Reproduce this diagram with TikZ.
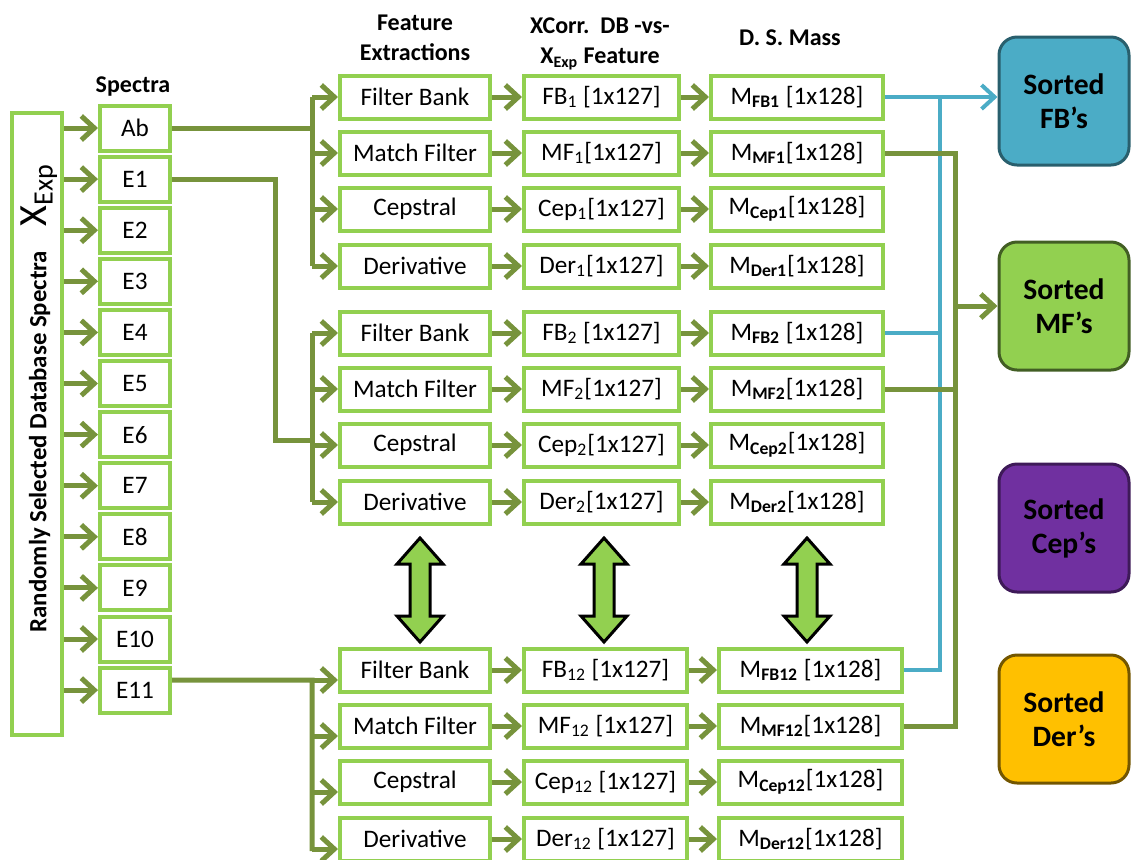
\documentclass[tikz,border=0pt]{standalone}
\usepackage{fontspec}
\setmainfont{Carlito}
\usepackage{tikz}
\usetikzlibrary{positioning,calc,arrows.meta}
\definecolor{boxgreen}{RGB}{146,208,80}
\definecolor{linegreen}{RGB}{119,147,60}
\definecolor{fbblue}{RGB}{75,172,198}
\definecolor{cepviolet}{RGB}{112,48,160}
\definecolor{derorange}{RGB}{255,192,0}

\begin{document}
\begin{tikzpicture}[x=0.5pt,y=-0.5pt]
            \tikzstyle{every node}=[font=\fontsize{12.6}{15}\selectfont]
            \tikzstyle{gbox}=[draw=boxgreen, line width=2pt, fill=white, inner sep=0pt, minimum height=21.5pt]
            \tikzstyle{spec}=[gbox, minimum width=35pt, minimum height=22.5pt]
            \tikzstyle{feat}=[gbox, minimum width=75pt]
            \tikzstyle{xcorr}=[gbox, minimum width=77.5pt]
            \tikzstyle{mass}=[gbox, minimum width=86pt]
            \tikzstyle{head}=[font=\fontsize{12}{15}\selectfont\bfseries, align=center]
            \tikzstyle{sorted}=[rounded corners=9pt, line width=1.5pt, minimum width=65pt, minimum height=64pt, align=center, font=\fontsize{14.8}{17}\selectfont\bfseries]
            \tikzstyle{line}=[draw=linegreen, line width=2.5pt]
            \tikzstyle{arr}=[line, -{Straight Barb[length=6.5pt,width=12pt]}]
            \tikzstyle{fbline}=[draw=fbblue, line width=2pt]

            \useasboundingbox (0,0) rectangle (1131,859);

            \node[gbox, minimum width=25pt, minimum height=311pt] (xbox) at (37,424) {};
            \node[rotate=90, font=\fontsize{12.4}{14}\selectfont\bfseries] (xlab) at (39,398)
                {Randomly Selected Database Spectra\quad{\mdseries\fontsize{20}{21}\selectfont X\textsubscript{Exp}}};

            \node[head] (spechead) at (133,87) {Spectra};
            \node[spec] (spAb) at (135,128) {Ab};
            \foreach \i in {1,...,11}
                \node[spec] (spE\i) at (135,128+51.1*\i) {E\i};
            \foreach \s in {Ab,E1,E2,E3,E4,E5,E6,E7,E8,E9,E10,E11}
                \draw[arr] (xbox.east |- sp\s) -- (sp\s.west);

            \node[head] (feathead) at (415,38) {Feature\\Extractions};
            \node[head] (xchead) at (600,44) {XCorr.\ \ DB -vs-\\X\textsubscript{Exp} Feature};
            \node[head] (mshead) at (790,38) {D. S. Mass};

            \foreach \g/\y in {1/97,2/333,12/670}
            {
                \node[feat] (feFB\g) at (415,\y) {Filter Bank};
                \node[feat] (feMF\g) at (415,\y+56) {Match Filter};
                \node[feat] (feCep\g) at (415,\y+112) {Cepstral};
                \node[feat] (feDer\g) at (415,\y+169) {Derivative};
            }

            \node[xcorr, right=15pt of feFB1] (xcFB1) {FB\textsubscript{1} [1x127]};
            \node[xcorr, right=15pt of feMF1] (xcMF1) {MF\textsubscript{1}[1x127]};
            \node[xcorr, right=15pt of feCep1] (xcCep1) {Cep\textsubscript{1}[1x127]};
            \node[xcorr, right=15pt of feDer1] (xcDer1) {Der\textsubscript{1}[1x127]};
            \node[xcorr, right=15pt of feFB2] (xcFB2) {FB\textsubscript{2} [1x127]};
            \node[xcorr, right=15pt of feMF2] (xcMF2) {MF\textsubscript{2}[1x127]};
            \node[xcorr, right=15pt of feCep2] (xcCep2) {Cep\textsubscript{2}[1x127]};
            \node[xcorr, right=15pt of feDer2] (xcDer2) {Der\textsubscript{2}[1x127]};
            \node[xcorr, minimum width=81.5pt, right=15pt of feFB12] (xcFB12) {FB\textsubscript{12} [1x127]};
            \node[xcorr, minimum width=81.5pt, right=15pt of feMF12] (xcMF12) {MF\textsubscript{12} [1x127]};
            \node[xcorr, minimum width=81.5pt, right=15pt of feCep12] (xcCep12) {Cep\textsubscript{12} [1x127]};
            \node[xcorr, minimum width=81.5pt, right=15pt of feDer12] (xcDer12) {Der\textsubscript{12} [1x127]};

            \node[mass, right=14pt of xcFB1] (msFB1) {M\textsubscript{\textbf{FB1}} [1x128]};
            \node[mass, right=14pt of xcMF1] (msMF1) {M\textsubscript{\textbf{MF1}}[1x128]};
            \node[mass, right=14pt of xcCep1] (msCep1) {M\textsubscript{\textbf{Cep1}}[1x128]};
            \node[mass, right=14pt of xcDer1] (msDer1) {M\textsubscript{\textbf{Der1}}[1x128]};
            \node[mass, right=14pt of xcFB2] (msFB2) {M\textsubscript{\textbf{FB2}} [1x128]};
            \node[mass, right=14pt of xcMF2] (msMF2) {M\textsubscript{\textbf{MF2}}[1x128]};
            \node[mass, right=14pt of xcCep2] (msCep2) {M\textsubscript{\textbf{Cep2}}[1x128]};
            \node[mass, right=14pt of xcDer2] (msDer2) {M\textsubscript{\textbf{Der2}}[1x128]};
            \node[mass, minimum width=91.5pt, right=14pt of xcFB12] (msFB12) {M\textsubscript{\textbf{FB12}} [1x128]};
            \node[mass, minimum width=91.5pt, right=14pt of xcMF12] (msMF12) {M\textsubscript{\textbf{MF12}}[1x128]};
            \node[mass, minimum width=91.5pt, right=14pt of xcCep12] (msCep12) {M\textsubscript{\textbf{Cep12}}[1x128]};
            \node[mass, minimum width=91.5pt, right=14pt of xcDer12] (msDer12) {M\textsubscript{\textbf{Der12}}[1x128]};

            \foreach \g in {1,2,12}
                \foreach \n in {FB,MF,Cep,Der}
                {
                    \draw[arr] (fe\n\g.east) -- (xc\n\g.west);
                    \draw[arr] (xc\n\g.east) -- (ms\n\g.west);
                }

            \coordinate (b1) at (312,128);
            \coordinate (b2) at (312,440);
            \coordinate (b3) at (312,680);
            \draw[line] (spAb.east) -- (b1);
            \draw[line] (b1 |- feFB1) -- (b1 |- feDer1);
            \draw[line] (spE1.east) -| ([xshift=-18.5pt]b2) -- (b2);
            \draw[line] (b2 |- feFB2) -- (b2 |- feDer2);
            \draw[line] ([yshift=5pt]spE11.east) -- (b3) -- ($(b3 |- feDer12)+(0,12)$);
            \foreach \n in {FB,MF,Cep,Der}
            {
                \draw[arr] (b1 |- fe\n1) -- (fe\n1.west);
                \draw[arr] (b2 |- fe\n2) -- (fe\n2.west);
                \draw[arr] ($(b3 |- fe\n12)+(0,10)$) -- ($(fe\n12.west)+(0,10)$);
            }

            \foreach \x in {420,604,807}
                \draw[fill=boxgreen, line width=1.5pt] (\x,538) -- ++(23,26) -- ++(-13,0) -- ++(0,52) -- ++(13,0)
                    -- ++(-23,26) -- ++(-23,-26) -- ++(13,0) -- ++(0,-52) -- ++(-13,0) -- cycle;

            \node[sorted, fill=fbblue, draw=fbblue!55!black] (sFB) at (1064,101) {Sorted\\FB’s};
            \node[sorted, fill=boxgreen, draw=boxgreen!45!black] (sMF) at (1064,306) {Sorted\\MF’s};
            \node[sorted, fill=cepviolet, draw=cepviolet!55!black] (sCep) at (1064,528) {Sorted\\Cep’s};
            \node[sorted, fill=derorange, draw=derorange!45!black] (sDer) at (1064,719) {Sorted\\Der’s};

            \coordinate (fbx) at (940,97);
            \coordinate (mfx) at (955,153);
            \draw[fbline, -{Straight Barb[length=6.5pt,width=12pt]}] (msFB1.east) -- (msFB1.east -| sFB.west);
            \draw[fbline] (msFB12.east) -| (fbx);
            \draw[fbline] (msFB2.east) -- (msFB2.east -| fbx);
            \draw[line] (msMF1.east) -- (mfx) |- (msMF12.east);
            \draw[line] (msMF2.east) -- (msMF2.east -| mfx);
            \draw[arr] (mfx |- sMF.west) -- (sMF.west);
        \end{tikzpicture}
\end{document}
